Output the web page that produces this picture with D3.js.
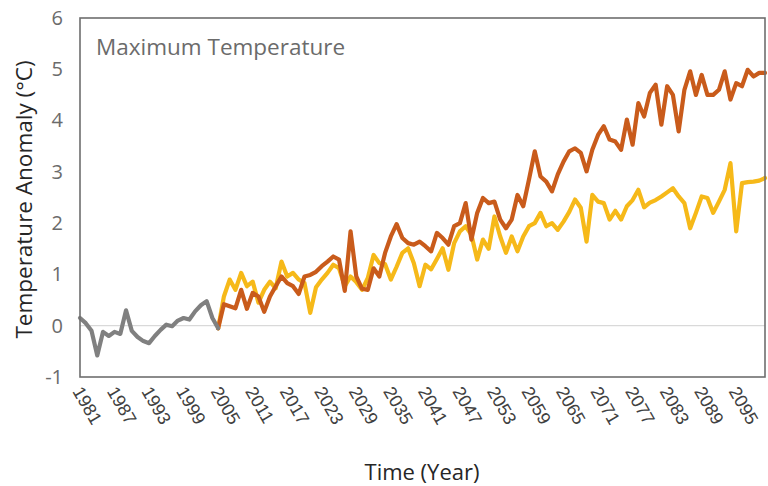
<!DOCTYPE html>
<html>
<head>
<meta charset="utf-8">
<script src="https://cdn.jsdelivr.net/npm/d3@7"></script>
<style>
  html, body { margin: 0; padding: 0; background: #fff; }
  svg { display: block; font-family: "Open Sans", "Noto Sans", sans-serif; }
</style>
</head>
<body>
<svg id="chart" width="768" height="486"></svg>
<script>
// ---- data ----
const histStart = 1981;
const historical = [0.15, 0.05, -0.10, -0.58, -0.12, -0.20, -0.12, -0.16, 0.30, -0.10,
  -0.22, -0.30, -0.34, -0.20, -0.08, 0.02, -0.01, 0.10, 0.15, 0.12,
  0.28, 0.40, 0.48, 0.15, -0.05];
const projStart = 2005;
const scenarioHigh = [-0.05, 0.42, 0.38, 0.34, 0.70, 0.33, 0.64, 0.57, 0.27, 0.57,
  0.77, 0.96, 0.83, 0.77, 0.62, 0.96, 0.99, 1.05, 1.16, 1.25,
  1.35, 1.29, 0.68, 1.84, 0.96, 0.72, 0.70, 1.12, 0.96, 1.42,
  1.74, 1.98, 1.71, 1.61, 1.58, 1.64, 1.55, 1.45, 1.81, 1.71,
  1.58, 1.94, 2.00, 2.39, 1.68, 2.20, 2.49, 2.39, 2.42, 2.07,
  1.90, 2.07, 2.55, 2.33, 2.85, 3.40, 2.91, 2.81, 2.62, 2.95,
  3.20, 3.40, 3.46, 3.37, 3.01, 3.43, 3.72, 3.89, 3.63, 3.59,
  3.43, 4.02, 3.53, 4.34, 4.08, 4.54, 4.70, 3.92, 4.67, 4.50,
  3.79, 4.60, 4.96, 4.50, 4.89, 4.50, 4.50, 4.60, 4.96, 4.41,
  4.73, 4.67, 4.99, 4.86, 4.93, 4.93];
const scenarioLow = [-0.05, 0.57, 0.90, 0.70, 1.03, 0.77, 0.86, 0.45, 0.70, 0.86,
  0.73, 1.25, 0.96, 1.03, 0.90, 0.83, 0.25, 0.75, 0.90, 1.03,
  1.19, 1.12, 0.77, 0.96, 0.85, 0.70, 0.93, 1.38, 1.22, 1.20,
  0.90, 1.15, 1.42, 1.51, 1.22, 0.77, 1.19, 1.10, 1.30, 1.51,
  1.09, 1.61, 1.84, 1.94, 1.77, 1.29, 1.68, 1.50, 2.13, 1.74,
  1.42, 1.74, 1.45, 1.74, 1.94, 2.00, 2.20, 1.94, 2.00, 1.87,
  2.03, 2.22, 2.46, 2.30, 1.64, 2.55, 2.42, 2.39, 2.07, 2.24,
  2.07, 2.33, 2.45, 2.65, 2.31, 2.40, 2.45, 2.52, 2.60, 2.68,
  2.52, 2.39, 1.90, 2.20, 2.52, 2.49, 2.20, 2.42, 2.65, 3.17,
  1.84, 2.78, 2.80, 2.81, 2.83, 2.88];
const yearFirst = 1981, yearLast = 2100;
const xTickYears = [1981, 1987, 1993, 1999, 2005, 2011, 2017, 2023, 2029, 2035,
  2041, 2047, 2053, 2059, 2065, 2071, 2077, 2083, 2089, 2095];
const yTicks = [-1, 0, 1, 2, 3, 4, 5, 6];
const panelTitle = "Maximum Temperature";
const yTitle = "Temperature Anomaly (°C)";
const xTitle = "Time (Year)";

// ---- layout ----
const svg = d3.select("#chart");
const L = 80, R = 765, T = 18, B = 377;
const x = d3.scaleLinear().domain([yearFirst, yearLast]).range([L, R]);
const y = d3.scaleLinear().domain([-1, 6]).range([B, T]);

const toPts = (arr, start) => arr.map((v, i) => ({ yr: start + i, v }));
const line = d3.line().x(d => x(d.yr)).y(d => y(d.v));

// zero line
svg.append("line")
  .attr("x1", L).attr("x2", R).attr("y1", y(0)).attr("y2", y(0))
  .attr("stroke", "#d9d9d9").attr("stroke-width", 1.2);

// series
const g = svg.append("g");
const sw = 4.2;
g.append("path").datum(toPts(scenarioLow, projStart)).attr("d", line)
  .attr("fill", "none").attr("stroke", "#f6b919").attr("stroke-width", sw)
  .attr("stroke-linejoin", "round").attr("stroke-linecap", "round");
g.append("path").datum(toPts(scenarioHigh, projStart)).attr("d", line)
  .attr("fill", "none").attr("stroke", "#c95b1b").attr("stroke-width", sw)
  .attr("stroke-linejoin", "round").attr("stroke-linecap", "round");
g.append("path").datum(toPts(historical, histStart)).attr("d", line)
  .attr("fill", "none").attr("stroke", "#808080").attr("stroke-width", sw)
  .attr("stroke-linejoin", "round").attr("stroke-linecap", "round");

// frame
svg.append("rect").attr("x", L).attr("y", T).attr("width", R - L).attr("height", B - T)
  .attr("fill", "none").attr("stroke", "#6e6e6e").attr("stroke-width", 1.6);

// y axis labels
const yAxis = d3.axisLeft(y).tickValues(yTicks).tickSize(0).tickPadding(17).tickFormat(d => String(d));
const yg = svg.append("g").attr("transform", `translate(${L},0)`).call(yAxis);
yg.select(".domain").remove();
yg.selectAll("text").attr("font-size", 20).attr("fill", "#6b6b6b")
  .attr("font-family", "'Open Sans', sans-serif");

// x axis labels
const xAxis = d3.axisBottom(x).tickValues(xTickYears).tickSize(0).tickFormat(d => String(d));
const xg = svg.append("g").attr("transform", `translate(0,${B})`).call(xAxis);
xg.select(".domain").remove();
xg.selectAll("text")
  .attr("font-size", 18).attr("fill", "#404040")
  .attr("text-anchor", "start")
  .attr("transform", "translate(-3,11) rotate(60)")
  .attr("x", 0).attr("y", 0).attr("dy", "0.35em");

// titles
svg.append("text").attr("x", 96).attr("y", 55).text(panelTitle)
  .attr("font-size", 22.5).attr("fill", "#6b6b6b");
svg.append("text")
  .attr("transform", `translate(24,${(T + B) / 2 + 2}) rotate(-90)`)
  .attr("text-anchor", "middle").attr("dy", "0.35em")
  .attr("font-size", 22.5).attr("fill", "#262626").text(yTitle);
svg.append("text").attr("x", 422).attr("y", 480).attr("text-anchor", "middle")
  .attr("font-size", 22).attr("fill", "#262626").text(xTitle);
</script>
</body>
</html>
